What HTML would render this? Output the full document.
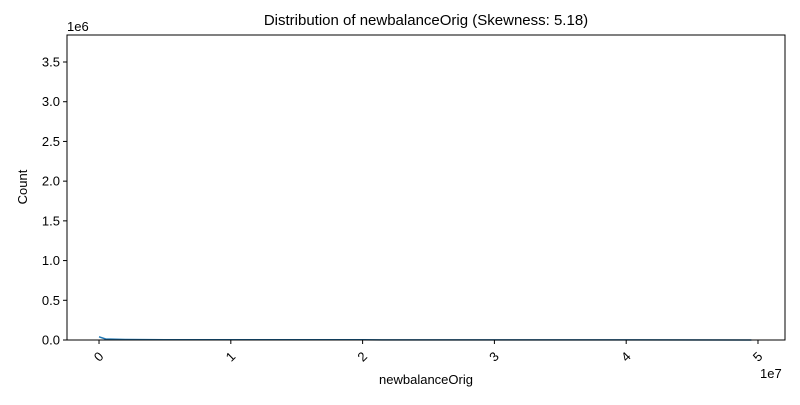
<!DOCTYPE html>
<html><head><meta charset="utf-8"><style>
body{margin:0;background:#fff;font-family:"Liberation Sans",sans-serif;}
svg text{font-family:"Liberation Sans",sans-serif;fill:#000;}
</style></head><body>
<svg width="800" height="400" viewBox="0 0 800 400">
<g id="plot"></g>
</svg>
<script>
const xTicks=[0,1,2,3,4,5];
const yTicks=[0,0.5,1.0,1.5,2.0,2.5,3.0,3.5];
const yTickLabels=["0.0","0.5","1.0","1.5","2.0","2.5","3.0","3.5"];
const kdeX=[0,0.05,0.2,0.5,1,2,3,4,4.95];
const kdeY=[40000,12000,6000,4000,3000,2000,1500,1000,500];
const L=67,R=785,T=35,B=340;
const xMin=-0.243,xMax=5.205,yMax=3.84e6;
const sx=v=>L+(v-xMin)/(xMax-xMin)*(R-L);
const sy=v=>B-v/yMax*(B-T);
const ns="http://www.w3.org/2000/svg";
const g=document.getElementById('plot');
function mk(t,a,txt){const e=document.createElementNS(ns,t);for(const k in a)e.setAttribute(k,a[k]);if(txt!==undefined)e.textContent=txt;g.appendChild(e);return e;}
let d=kdeX.map((x,i)=>(i?'L':'M')+sx(x).toFixed(1)+','+sy(kdeY[i]).toFixed(1)).join(' ');
const line=mk('path',{d:d,fill:'none',stroke:'#1f77b4','stroke-width':1.5});


const frame=mk('rect',{x:L,y:T,width:R-L,height:B-T,fill:'none',stroke:'#000','stroke-width':1});


xTicks.forEach(v=>{const x=sx(v);
const tk=mk('line',{x1:x,x2:x,y1:B,y2:B+4,stroke:'#000'});


const tl=mk('text',{x:x,y:B+21,'font-size':13,'text-anchor':'middle',transform:`rotate(-45 ${x} ${B+17})`},String(v));

});
yTicks.forEach((v,i)=>{const y=sy(v*1e6);
const tk=mk('line',{x1:L-4,x2:L,y1:y,y2:y,stroke:'#000'});


const tl=mk('text',{x:L-7,y:y+4.5,'font-size':13,'text-anchor':'end'},yTickLabels[i]);

});
const t=mk('text',{x:426,y:25,'font-size':15,'text-anchor':'middle'},'Distribution of newbalanceOrig (Skewness: 5.18)');


const xl=mk('text',{x:426,y:384,'font-size':13,'text-anchor':'middle'},'newbalanceOrig');


const yl=mk('text',{x:27,y:187,'font-size':13,'text-anchor':'middle',transform:'rotate(-90 27 187)'},'Count');


const ye=mk('text',{x:67,y:31,'font-size':13},'1e6');


const xe=mk('text',{x:760,y:378,'font-size':13},'1e7');


</script>
</body></html>
